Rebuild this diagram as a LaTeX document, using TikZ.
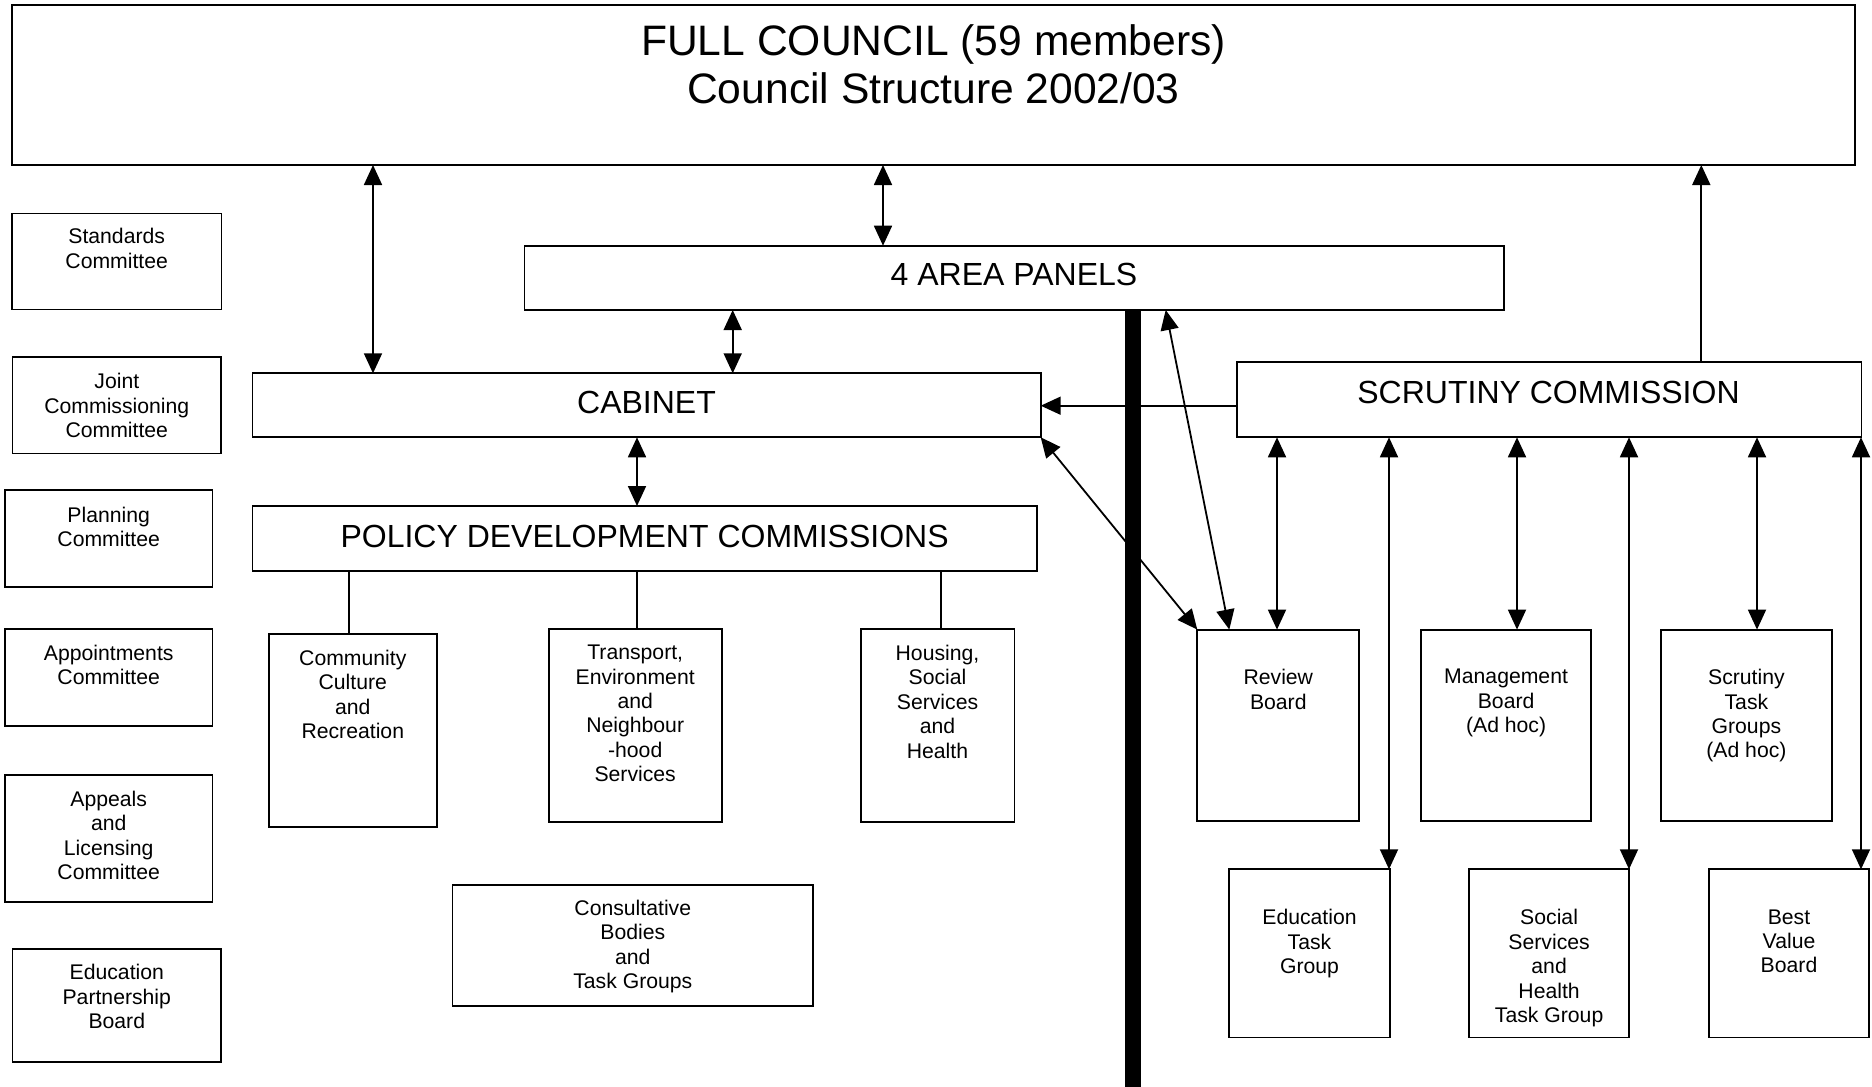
\documentclass[tikz,border=0pt]{standalone}
\usepackage{fontspec}
\setmainfont{Liberation Sans}
\usetikzlibrary{arrows.meta,fit}
\begin{document}
\begin{tikzpicture}[x=1pt,y=-1pt,
  box/.style={draw, line width=1.8pt, inner sep=0pt, outer sep=0pt},
  ts/.style={align=center, inner sep=0pt, anchor=north, font=\fontsize{21.2}{24.4}\selectfont},
  tm/.style={align=center, inner sep=0pt, anchor=north, font=\fontsize{32}{38}\selectfont},
  tl/.style={align=center, inner sep=0pt, anchor=north, font=\fontsize{42.6}{48.3}\selectfont},
  ln/.style={line width=1.8pt},
  arr/.style={ln, -{Triangle[length=20pt,width=18pt]}},
  darr/.style={ln, {Triangle[length=20pt,width=18pt]}-{Triangle[length=20pt,width=18pt]}},
  bar/.style={line width=15.7pt}
]
\useasboundingbox (0,0) rectangle (1872,1087);

% ---- boxes ----
\node[box, fit={(12,5)(1855,165)}] (fc) {};
\node[tl] (fc-t) at (933.5,24) {FULL COUNCIL (59 members)\\Council Structure 2002/03};

\node[box, fit={(12,213.5)(221.5,309.5)}] (std) {};
\node[ts] (std-t) at (116.7,228.1) {Standards\\Committee};
\node[box, fit={(12.5,357.3)(221,453.5)}] (joint) {};
\node[ts] (joint-t) at (116.8,373.4) {Joint\\Commissioning\\Committee};
\node[box, fit={(5,490)(212.5,586.7)}] (plan) {};
\node[ts] (plan-t) at (108.7,506.7) {Planning\\Committee};
\node[box, fit={(5,629.3)(212.5,726)}] (appt) {};
\node[ts] (appt-t) at (108.7,645) {Appointments\\Committee};
\node[box, fit={(5,775)(212.5,902)}] (appeal) {};
\node[ts] (appeal-t) at (108.7,791) {Appeals\\and\\Licensing\\Committee};
\node[box, fit={(12.5,949.3)(221,1062)}] (edup) {};
\node[ts] (edup-t) at (116.8,964.4) {Education\\Partnership\\Board};

\node[box, fit={(524.5,245.7)(1504.3,310)}] (ap) {};
\node[tm] (ap-t) at (1014,263.1) {4 AREA PANELS};
\node[box, fit={(252.4,373.3)(1040.7,437.3)}] (cab) {};
\node[tm] (cab-t) at (646.5,391.3) {CABINET};
\node[box, fit={(252.5,506)(1036.8,570.7)}] (pdc) {};
\node[tm] (pdc-t) at (644.6,525.2) {POLICY DEVELOPMENT COMMISSIONS};

\node[box, fit={(268.7,634.3)(437,826.7)}] (comm) {};
\node[ts] (comm-t) at (352.8,650) {Community\\Culture\\and\\Recreation};
\node[box, fit={(548.6,629.3)(721.9,821.7)}] (trans) {};
\node[ts] (trans-t) at (635.2,645) {Transport,\\Environment\\and\\Neighbour\\-hood\\Services};
\node[box, fit={(860.7,629.3)(1014.4,821.7)}] (hous) {};
\node[ts] (hous-t) at (937.5,645) {Housing,\\Social\\Services\\and\\Health};
\node[box, fit={(452.5,885.3)(813,1005.7)}] (cons) {};
\node[ts] (cons-t) at (632.8,900) {Consultative\\Bodies\\and\\Task Groups};

\node[box, fit={(1236.7,362.3)(1861.5,437.3)}] (scr) {};
\node[tm] (scr-t) at (1548.5,380.8) {SCRUTINY COMMISSION};
\node[box, fit={(1197.3,629.6)(1359.3,821.3)}] (rev) {};
\node[ts] (rev-t) at (1278.3,669.2) {Review\\Board};
\node[box, fit={(1421.2,629.6)(1591,821.3)}] (mgmt) {};
\node[ts] (mgmt-t) at (1506.1,669.2) {Management\\Board\\(Ad hoc)};
\node[box, fit={(1661.3,629.6)(1831.6,821.3)}] (stg) {};
\node[ts] (stg-t) at (1746.4,669.2) {Scrutiny\\Task\\Groups\\(Ad hoc)};
\node[box, fit={(1229.3,869.3)(1389.7,1037.5)}] (etg) {};
\node[ts] (etg-t) at (1309.5,909.4) {Education\\Task\\Group};
\node[box, fit={(1468.9,869.3)(1629.3,1037.5)}] (soc) {};
\node[ts] (soc-t) at (1549.1,909.4) {Social\\Services\\and\\Health\\Task Group};
\node[box, fit={(1709,869.3)(1869,1037.5)}] (bvb) {};
\node[ts] (bvb-t) at (1789,909.4) {Best\\Value\\Board};

% ---- x positions of connectors ----
\coordinate (xa) at (373,0);
\coordinate (xb) at (883,0);
\coordinate (xc) at (732.7,0);
\coordinate (xd) at (637,0);
\coordinate (xe) at (348.6,0);
\coordinate (xf) at (940.7,0);
\coordinate (xg) at (1701.3,0);
\coordinate (yh) at (0,405.7);
\coordinate (xi) at (1165.7,0);
\coordinate (xj) at (1229.3,0);
\coordinate (xk) at (1277,0);
\coordinate (xl) at (1389,0);
\coordinate (xm) at (1517,0);
\coordinate (xn) at (1629,0);
\coordinate (xo) at (1757,0);
\coordinate (xp) at (1861,0);
\coordinate (barend) at (1133,1087);

% ---- thick divider ----
\draw[bar] (ap.south -| barend) -- (barend);

% ---- connectors ----
\draw[darr] (fc.south -| xa) -- (cab.north -| xa);
\draw[darr] (fc.south -| xb) -- (ap.north -| xb);
\draw[darr] (ap.south -| xc) -- (cab.north -| xc);
\draw[darr] (cab.south -| xd) -- (pdc.north -| xd);
\draw[ln] (pdc.south -| xe) -- (comm.north -| xe);
\draw[ln] (pdc.south -| xd) -- (trans.north -| xd);
\draw[ln] (pdc.south -| xf) -- (hous.north -| xf);
\draw[arr] (scr.north -| xg) -- (fc.south -| xg);
\draw[arr] (scr.west |- yh) -- (cab.east |- yh);
\draw[darr] (cab.south east) -- (rev.north west);
\draw[darr] (ap.south -| xi) -- (rev.north -| xj);
\draw[darr] (scr.south -| xk) -- (rev.north -| xk);
\draw[darr] (scr.south -| xl) -- (etg.north -| xl);
\draw[darr] (scr.south -| xm) -- (mgmt.north -| xm);
\draw[darr] (scr.south -| xn) -- (soc.north -| xn);
\draw[darr] (scr.south -| xo) -- (stg.north -| xo);
\draw[darr] (scr.south -| xp) -- (bvb.north -| xp);
\end{tikzpicture}
\end{document}
